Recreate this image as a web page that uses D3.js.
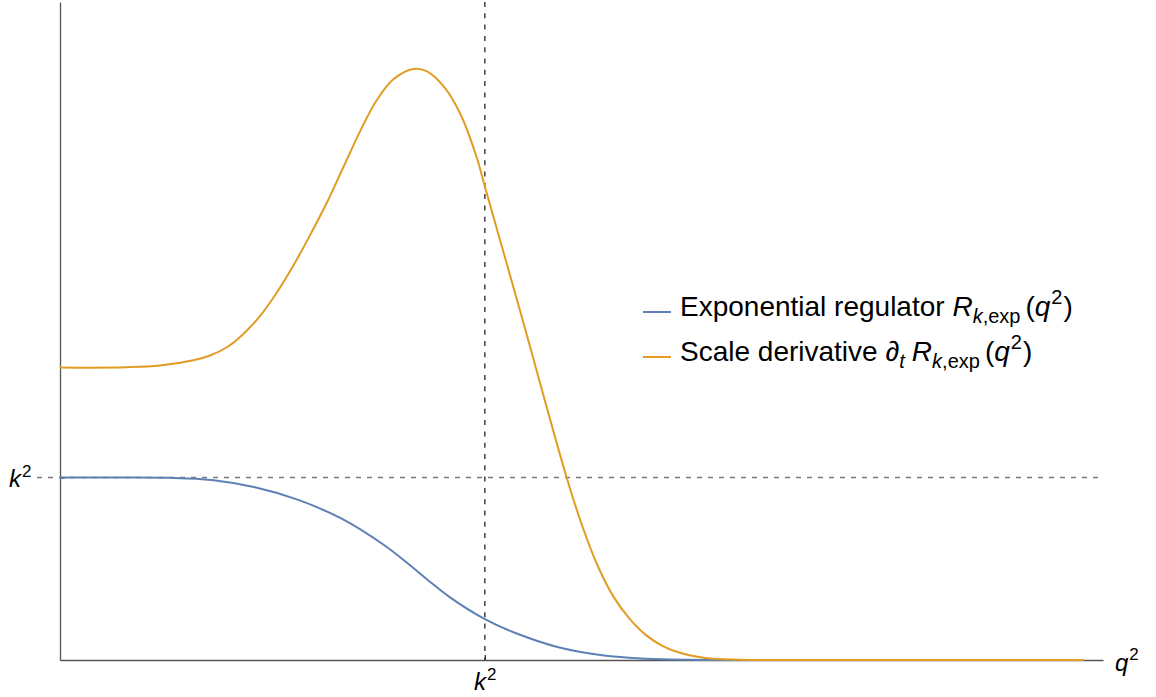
<!DOCTYPE html>
<html>
<head>
<meta charset="utf-8">
<script src="https://cdn.jsdelivr.net/npm/d3@7"></script>
<style>
  html, body { margin: 0; padding: 0; background: #fff; }
  svg { display: block; font-family: "Liberation Sans", Arial, sans-serif; }
</style>
</head>
<body>
<svg id="chart" width="1156" height="697"></svg>
<script>
// q^2 in units of k^2, regulator values in units of k^2
const regulatorQ = [0, 0.15, 0.255, 0.357, 0.459, 0.561, 0.663, 0.765, 0.816, 0.867, 0.918, 1.0, 1.072, 1.173, 1.276, 1.378, 1.48, 1.6, 2.0, 2.41];
const regulatorR = [1.0, 1.0, 0.998, 0.986, 0.946, 0.877, 0.774, 0.626, 0.534, 0.436, 0.343, 0.224, 0.148, 0.070, 0.026, 0.007, 0.001, 0.0, 0.0, 0.0];

const derivQ = [0, 0.157, 0.235, 0.314, 0.353, 0.392, 0.431, 0.471, 0.510, 0.549, 0.588, 0.628, 0.667, 0.706, 0.745, 0.784, 0.831, 0.863, 0.902, 0.941, 0.980, 1.0, 1.020, 1.059, 1.106, 1.145, 1.192, 1.224, 1.263, 1.302, 1.341, 1.380, 1.420, 1.459, 1.5, 1.537, 1.6, 1.7, 2.0, 2.41];
const derivR = [1.602, 1.604, 1.613, 1.642, 1.668, 1.712, 1.785, 1.885, 2.012, 2.160, 2.325, 2.505, 2.700, 2.895, 3.065, 3.180, 3.238, 3.226, 3.145, 2.998, 2.760, 2.595, 2.430, 2.110, 1.720, 1.390, 1.004, 0.770, 0.530, 0.350, 0.225, 0.135, 0.075, 0.040, 0.018, 0.007, 0.001, 0.0, 0.0, 0.0];

const xTicks = [1];   // q^2 = k^2
const yTicks = [1];   // R = k^2
const xDomain = [0, 2.455];
const yDomain = [0, 3.605];

const seriesColors = { regulator: "#5E81B5", deriv: "#E19C24" };

const svg = d3.select("#chart");
const x = d3.scaleLinear().domain(xDomain).range([60, 1103]);
const y = d3.scaleLinear().domain(yDomain).range([660, 2]);

// reference lines at k^2
svg.append("line")
  .attr("x1", 37).attr("x2", x(xDomain[1]))
  .attr("y1", y(yTicks[0])).attr("y2", y(yTicks[0]))
  .attr("stroke", "#7a7a7a").attr("stroke-width", 1.5)
  .attr("stroke-dasharray", "5,6");
svg.append("line")
  .attr("x1", x(xTicks[0])).attr("x2", x(xTicks[0]))
  .attr("y1", y(yDomain[1])).attr("y2", y(0))
  .attr("stroke", "#333").attr("stroke-width", 1.4)
  .attr("stroke-dasharray", "5,6.3");

// axes
const xAxis = svg.append("g")
  .attr("transform", `translate(0,${y(0)})`)
  .call(d3.axisBottom(x).tickValues(xTicks).tickSize(-5).tickSizeOuter(0).tickFormat(() => ""));
const yAxis = svg.append("g")
  .attr("transform", `translate(${x(0)},0)`)
  .call(d3.axisLeft(y).tickValues(yTicks).tickSize(-5).tickSizeOuter(0).tickFormat(() => ""));
[xAxis, yAxis].forEach(g => {
  g.select(".domain").attr("stroke", "#555").attr("stroke-width", 1.3);
  g.selectAll(".tick line").attr("stroke", "#333").attr("stroke-width", 1.3);
});

function kSquared(sel) {
  sel.append("tspan").attr("font-style", "italic").text("k");
  sel.append("tspan").attr("font-size", 17).attr("dy", -10).attr("dx", 1).text("2");
}
xAxis.selectAll(".tick").append("text")
  .attr("x", 0).attr("y", 30)
  .attr("fill", "#000").attr("font-size", 24).attr("text-anchor", "middle")
  .call(kSquared);
yAxis.selectAll(".tick").append("text")
  .attr("x", -51).attr("y", 9)
  .attr("fill", "#000").attr("font-size", 24).attr("text-anchor", "start")
  .call(kSquared);

// axis name q^2
const qLabel = svg.append("text")
  .attr("x", 1115).attr("y", 671).attr("font-size", 24).attr("fill", "#000");
qLabel.append("tspan").attr("font-style", "italic").text("q");
qLabel.append("tspan").attr("font-size", 17).attr("dy", -11).attr("dx", 1).text("2");

// curves
const line = d3.line().x(d => x(d[0])).y(d => y(d[1])).curve(d3.curveCatmullRom.alpha(0.5));
const regulatorPts = regulatorQ.map((q, i) => [q, regulatorR[i]]);
const derivPts = derivQ.map((q, i) => [q, derivR[i]]);

svg.append("path").datum(regulatorPts)
  .attr("d", line).attr("fill", "none")
  .attr("stroke", seriesColors.regulator).attr("stroke-width", 2);
svg.append("path").datum(derivPts)
  .attr("d", line).attr("fill", "none")
  .attr("stroke", seriesColors.deriv).attr("stroke-width", 2);

// legend
const legend = svg.append("g").attr("font-size", 28).attr("fill", "#000");
const entries = [
  { color: seriesColors.regulator, cy: 312, label: "Exponential regulator ", deriv: false },
  { color: seriesColors.deriv, cy: 357, label: "Scale derivative ", deriv: true }
];
entries.forEach(e => {
  legend.append("line")
    .attr("x1", 643).attr("x2", 671).attr("y1", e.cy).attr("y2", e.cy)
    .attr("stroke", e.color).attr("stroke-width", 2);
  const t = legend.append("text").attr("x", 680).attr("y", e.cy + 3.5);
  t.append("tspan").text(e.label);
  if (e.deriv) {
    t.append("tspan").text("\u2202");
    t.append("tspan").attr("font-size", 20).attr("font-style", "italic").attr("dy", 7).text("t");
    t.append("tspan").attr("font-style", "italic").attr("dy", -7).attr("dx", 7).text("R");
  } else {
    t.append("tspan").attr("font-style", "italic").text("R");
  }
  t.append("tspan").attr("font-size", 20).attr("dy", 7).attr("font-style", "italic").text("k");
  t.append("tspan").attr("font-size", 20).text(",exp");
  t.append("tspan").attr("dy", -7).attr("dx", 5).text("(");
  t.append("tspan").attr("font-style", "italic").text("q");
  t.append("tspan").attr("font-size", 20).attr("dy", -12).attr("dx", 1).text("2");
  t.append("tspan").attr("dy", 12).attr("dx", 1).text(")");
});
</script>
</body>
</html>
